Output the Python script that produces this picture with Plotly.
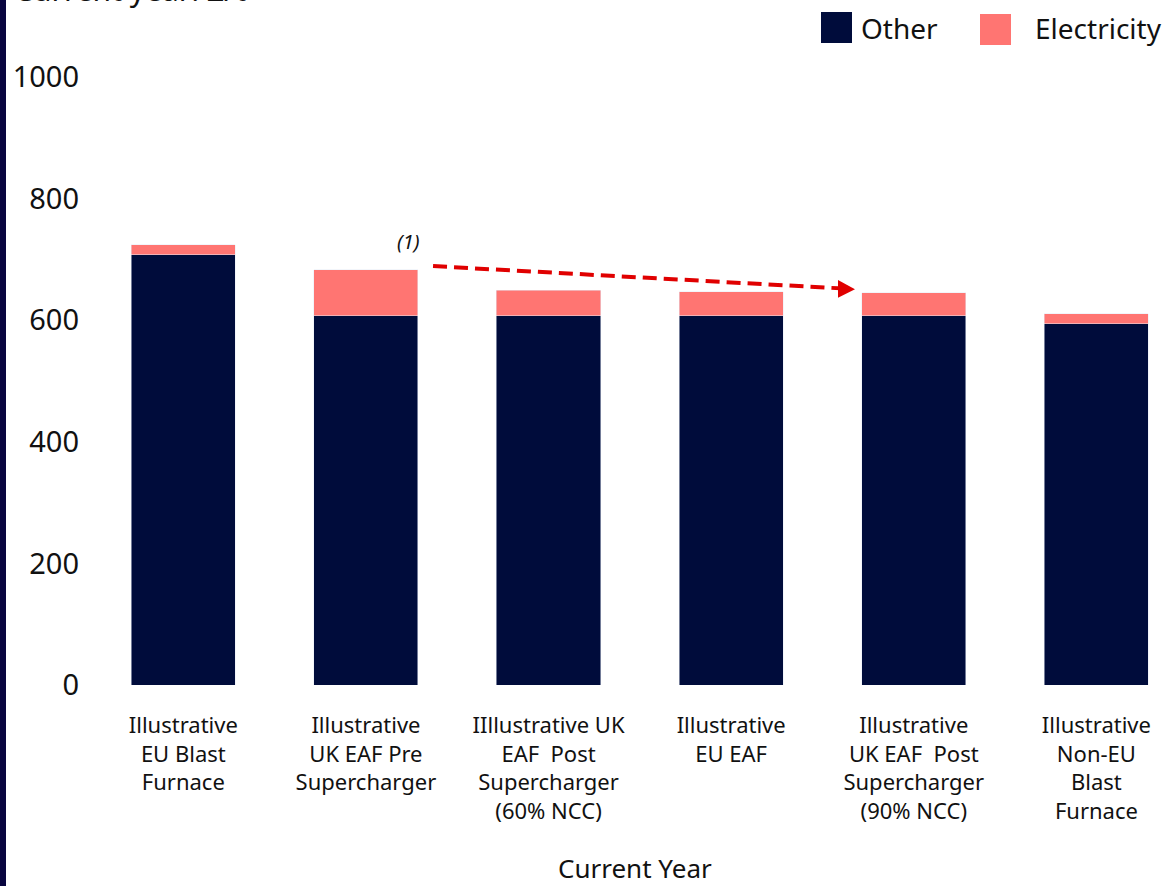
import plotly.graph_objects as go

# ---- data ----
categories = [
    "Illustrative<br>EU Blast<br>Furnace",
    "Illustrative<br>UK EAF Pre<br>Supercharger",
    "IIllustrative UK<br>EAF\u00a0 Post<br>Supercharger<br>(60% NCC)",
    "Illustrative<br>EU EAF",
    "Illustrative<br>UK EAF\u00a0 Post<br>Supercharger<br>(90% NCC)",
    "Illustrative<br>Non-EU<br>Blast<br>Furnace",
]
other = [708, 607, 607, 607, 607, 594]
electricity = [16, 76, 42, 40, 38, 17]
y_ticks = [0, 200, 400, 600, 800, 1000]

NAVY = "#000c3b"
SALMON = "#ff7572"
FONT = "Noto Sans"

W, H = 1174, 886
ML, MR, MT, MB = 92, 0, 77, 201
PW, PH = W - ML - MR, H - MT - MB


def px(x):
    return (x - ML) / PW


def py(y):
    return 1 + (MT - y) / PH


xs = list(range(len(categories)))

fig = go.Figure()
fig.add_trace(go.Bar(x=xs, y=other, name="Other", marker_color=NAVY,
                     width=0.57, showlegend=False))
fig.add_trace(go.Bar(x=xs, y=electricity, name="Electricity", marker_color=SALMON,
                     width=0.57, showlegend=False))

fig.update_layout(
    barmode="stack",
    width=W, height=H,
    margin=dict(l=ML, r=MR, t=MT, b=MB),
    plot_bgcolor="white", paper_bgcolor="white",
    font=dict(family=FONT, color="#111111"),
    xaxis=dict(
        range=[-0.5, 5.425],
        tickvals=xs, ticktext=categories,
        tickfont=dict(size=22, color="#111111"),
        showgrid=False, zeroline=False, showline=False, ticks="",
        ticklabelstandoff=25,
    ),
    yaxis=dict(
        range=[0, 1000], tickvals=y_ticks,
        tickfont=dict(size=29, color="#111111"),
        showgrid=False, zeroline=False, showline=False, ticks="",
        ticklabelstandoff=12,
    ),
)

# left accent strip
fig.add_shape(type="rect", xref="paper", yref="paper",
              x0=px(0), x1=px(6), y0=py(H), y1=py(0),
              fillcolor="#08053f", line_width=0, layer="above")

# title (partially cut at top, as in the source)
fig.add_annotation(text="Current year: £/t", xref="paper", yref="paper",
                   x=px(12), y=py(12), xanchor="left", yanchor="bottom",
                   showarrow=False, font=dict(size=30, color="#111111"))

# x axis title
fig.add_annotation(text="Current Year", xref="paper", yref="paper",
                   x=px(635), y=py(868), xanchor="center", yanchor="middle",
                   showarrow=False, font=dict(size=26, color="#111111"))

# custom legend
legend_items = [("Other", NAVY, 821, 12, 859), ("Electricity", SALMON, 980, 14, 1033)]
for name, col, sx, sy, tx in legend_items:
    fig.add_shape(type="rect", xref="paper", yref="paper",
                  x0=px(sx), x1=px(sx + 31), y0=py(sy + 31), y1=py(sy),
                  fillcolor=col, line_width=0)
    fig.add_annotation(text=name, xref="paper", yref="paper",
                       x=px(tx), y=py(28), xanchor="left", yanchor="middle",
                       showarrow=False, font=dict(size=28, color="#111111"))

# note and dashed arrow
fig.add_annotation(text="<i>(1)</i>", x=1.231, y=730, xref="x", yref="y",
                   showarrow=False, font=dict(size=20, color="#111111"))
fig.add_shape(type="line", xref="x", yref="y",
              x0=1.3675, y0=689, x1=3.62, y1=652,
              line=dict(color="#e00000", width=4, dash="14px,7px"))
fig.add_shape(type="path", xref="x", yref="y",
              path="M 3.585 666 L 3.678 651 L 3.585 637 Z",
              fillcolor="#e00000", line_width=0)

fig.write_html("out.html", config={"displayModeBar": False},
               post_script="document.body.style.margin='0';document.body.style.overflow='hidden';")
